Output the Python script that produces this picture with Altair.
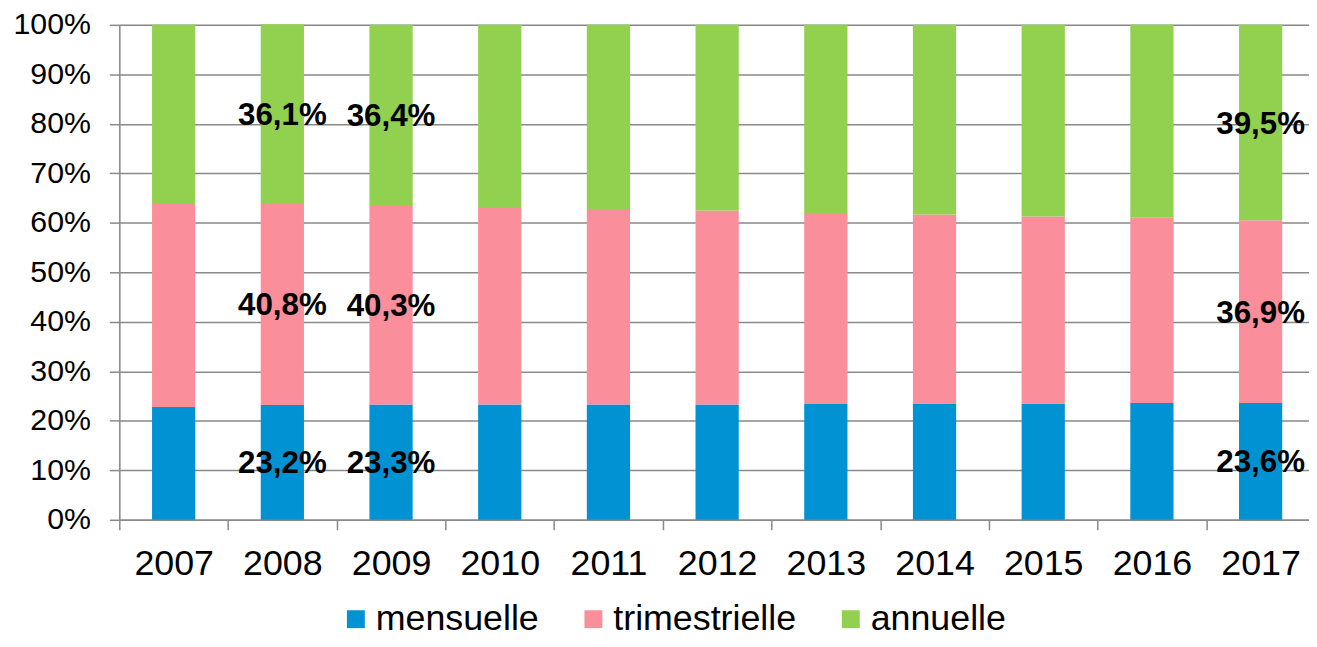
import altair as alt
import pandas as pd

years = ["2007", "2008", "2009", "2010", "2011", "2012", "2013", "2014", "2015", "2016", "2017"]
mensuelle = [22.8, 23.2, 23.3, 23.3, 23.3, 23.3, 23.4, 23.5, 23.5, 23.6, 23.6]
trimestrielle = [41.0, 40.8, 40.3, 39.9, 39.5, 39.2, 38.6, 38.2, 37.8, 37.4, 36.9]
annuelle = [36.2, 36.1, 36.4, 36.8, 37.2, 37.5, 38.0, 38.3, 38.7, 39.0, 39.5]
series = ["mensuelle", "trimestrielle", "annuelle"]
colors = ["#0092D2", "#FA8E9B", "#92D050"]
labelled_years = ["2008", "2009", "2017"]

rows = []
for i, y in enumerate(years):
    base = 0.0
    for k, (name, vals) in enumerate(zip(series, [mensuelle, trimestrielle, annuelle])):
        v = vals[i]
        rows.append({
            "year": y, "serie": name, "value": v, "order": k,
            "mid": base + v / 2.0,
            "label": (f"{v:.1f}".replace(".", ",") + "%") if y in labelled_years else "",
        })
        base += v
df = pd.DataFrame(rows)

FONT = "Liberation Sans"

x_enc = alt.X("year:N", sort=years, title=None,
              scale=alt.Scale(paddingInner=0, paddingOuter=0),
              axis=alt.Axis(labelAngle=0, labelFontSize=36, labelFont=FONT, labelColor="#000000",
                            tickBand="extent", tickSize=10, tickColor="#898989", tickWidth=1.5,
                            domainColor="#898989", domainWidth=1.5, labelPadding=17, grid=False))

bars = alt.Chart(df).mark_bar(size=43.5).encode(
    x=x_enc,
    y=alt.Y("value:Q", stack="zero", title=None,
            scale=alt.Scale(domain=[0, 100], nice=False),
            axis=alt.Axis(values=list(range(0, 101, 10)), labelExpr="datum.value + '%'",
                          labelFontSize=30.5, labelFont=FONT, labelColor="#000000",
                          tickSize=10, tickColor="#898989", tickWidth=1.5,
                          domainColor="#898989", domainWidth=1.5, labelPadding=19,
                          grid=True, gridColor="#898989", gridWidth=1.5)),
    color=alt.Color("serie:N", sort=series, title=None,
                    scale=alt.Scale(domain=series, range=colors),
                    legend=alt.Legend(orient="none", direction="horizontal", legendX=220, legendY=580,
                                      symbolType="square", symbolSize=324, symbolStrokeWidth=0,
                                      labelFontSize=36, labelFont=FONT, labelColor="#000000",
                                      labelLimit=500, labelOffset=2, columnPadding=36, padding=0)),
    order=alt.Order("order:Q", sort="ascending"),
)

texts = alt.Chart(df).mark_text(font=FONT, fontSize=31.5, fontWeight="bold", color="#000000",
                                 baseline="middle", align="center", dy=2).encode(
    x=alt.X("year:N", sort=years),
    y=alt.Y("mid:Q"),
    text="label:N",
)

chart = alt.layer(bars, texts).properties(
    width=1203, height=498,
    autosize=alt.AutoSizeParams(type="none"),
    padding={"left": 112, "top": 15, "right": -6, "bottom": 118},
).configure_view(strokeWidth=0).configure(background="#ffffff")

chart.save("out.html", embed_options={"renderer": "svg", "actions": False})
